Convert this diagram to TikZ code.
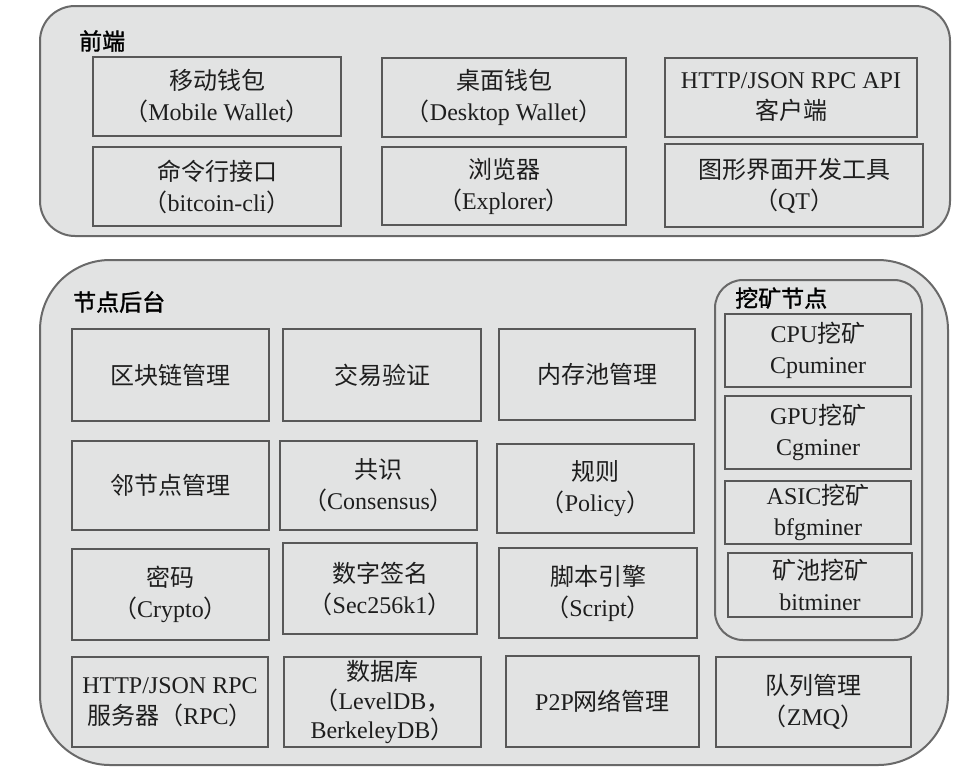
\documentclass[tikz,border=0pt]{standalone}
\usepackage{fontspec}
\setmainfont{Liberation Serif}
\newfontfamily\cjk[Scale=1.0]{Noto Sans CJK SC}
\newfontfamily\cjktitle[FakeBold=1.4]{Noto Sans CJK SC}
\newcommand\zh[1]{{\cjk #1}}
\definecolor{boxgray}{RGB}{226,227,227}
\definecolor{edgegray}{RGB}{88,88,88}
\definecolor{linegray}{RGB}{105,105,105}
\definecolor{inkgray}{RGB}{30,30,30}
\begin{document}
\begin{tikzpicture}
  [x=1pt,y=-1pt,
   group/.style={draw=linegray, fill=boxgray, line width=2pt, inner sep=0pt},
   box/.style={draw=edgegray, fill=boxgray, line width=2.6pt, inner sep=0pt, align=center,
     text=inkgray, font=\fontsize{24}{31}\selectfont},
   title/.style={anchor=west, inner sep=0pt, text=black, font=\fontsize{23}{27}\selectfont\cjktitle}]

 \useasboundingbox (0,0) rectangle (976,774);

 % front end
 \node[group, rounded corners=35pt, minimum width=910pt, minimum height=230pt] (front) at (495,121) {};
 \node[title] (fronttitle) at (79,41) {前端};

 \node[box, minimum width=248pt, minimum height=79pt] (mobile) at (217,96.5) {\zh{移动钱包}\\\zh{（}Mobile Wallet\zh{）}};
 \node[box, minimum width=244pt, minimum height=79pt] (desktop) at (504,97.5) {\zh{桌面钱包}\\\zh{（}Desktop Wallet\zh{）}};
 \node[box, minimum width=252pt, minimum height=79pt] (apiclient) at (791,97.5) {HTTP/JSON RPC API\\\zh{客户端}};
 \node[box, minimum width=248pt, minimum height=79pt] (cli) at (217,186.5) {\zh{命令行接口}\\\zh{（}bitcoin-cli\zh{）}};
 \node[box, minimum width=244pt, minimum height=78pt] (explorer) at (504,186) {\zh{浏览器}\\\zh{（}Explorer\zh{）}};
 \node[box, minimum width=258pt, minimum height=83pt] (qt) at (794,185.5) {\zh{图形界面开发工具}\\\zh{（}QT\zh{）}};

 % node backend
 \node[group, rounded corners=70pt, minimum width=908pt, minimum height=505pt] (backend) at (494,512.5) {};
 \node[title] (backendtitle) at (73,302) {节点后台};

 \node[box, minimum width=197pt, minimum height=92pt] (chain) at (170.5,375) {\zh{区块链管理}};
 \node[box, minimum width=198pt, minimum height=92pt] (txcheck) at (382,375) {\zh{交易验证}};
 \node[box, minimum width=196pt, minimum height=91pt] (mempool) at (597,374.5) {\zh{内存池管理}};

 \node[box, minimum width=197pt, minimum height=89pt] (peers) at (170.5,485.5) {\zh{邻节点管理}};
 \node[box, minimum width=197pt, minimum height=89pt] (consensus) at (378.5,485.5) {\zh{共识}\\\zh{（}Consensus\zh{）}};
 \node[box, minimum width=197pt, minimum height=89pt] (policy) at (595.5,488.5) {\zh{规则}\\\zh{（}Policy\zh{）}};

 \node[box, minimum width=197pt, minimum height=91pt] (crypto) at (170.5,594.5) {\zh{密码}\\\zh{（}Crypto\zh{）}};
 \node[box, minimum width=194pt, minimum height=91pt] (signature) at (380,588.5) {\zh{数字签名}\\\zh{（}Sec256k1\zh{）}};
 \node[box, minimum width=198pt, minimum height=90pt] (script) at (598,593) {\zh{脚本引擎}\\\zh{（}Script\zh{）}};

 \node[box, minimum width=196pt, minimum height=90pt] (rpcserver) at (170,702) {HTTP/JSON RPC\\\zh{服务器（}RPC\zh{）}};
 \node[box, minimum width=197pt, minimum height=90pt, font=\fontsize{24}{29}\selectfont] (database) at (382.5,702) {\zh{数据库}\\\zh{（}LevelDB\zh{，}\\BerkeleyDB\zh{）}};
 \node[box, minimum width=193pt, minimum height=91pt] (p2p) at (602.5,701.5) {P2P\zh{网络管理}};
 \node[box, minimum width=195pt, minimum height=90pt] (zmq) at (813.5,702) {\zh{队列管理}\\\zh{（}ZMQ\zh{）}};

 % mining node
 \node[group, rounded corners=28pt, minimum width=207pt, minimum height=360pt] (mining) at (818.5,460) {};
 \node[title] (miningtitle) at (735,298) {挖矿节点};

 \node[box, minimum width=186pt, minimum height=73pt] (cpu) at (818,350.5) {CPU\zh{挖矿}\\Cpuminer};
 \node[box, minimum width=186pt, minimum height=73pt] (gpu) at (818,432.5) {GPU\zh{挖矿}\\Cgminer};
 \node[box, minimum width=186pt, minimum height=63pt] (asic) at (818,512.5) {ASIC\zh{挖矿}\\bfgminer};
 \node[box, minimum width=184pt, minimum height=64pt] (pool) at (820,585) {\zh{矿池挖矿}\\bitminer};

\end{tikzpicture}
\end{document}
